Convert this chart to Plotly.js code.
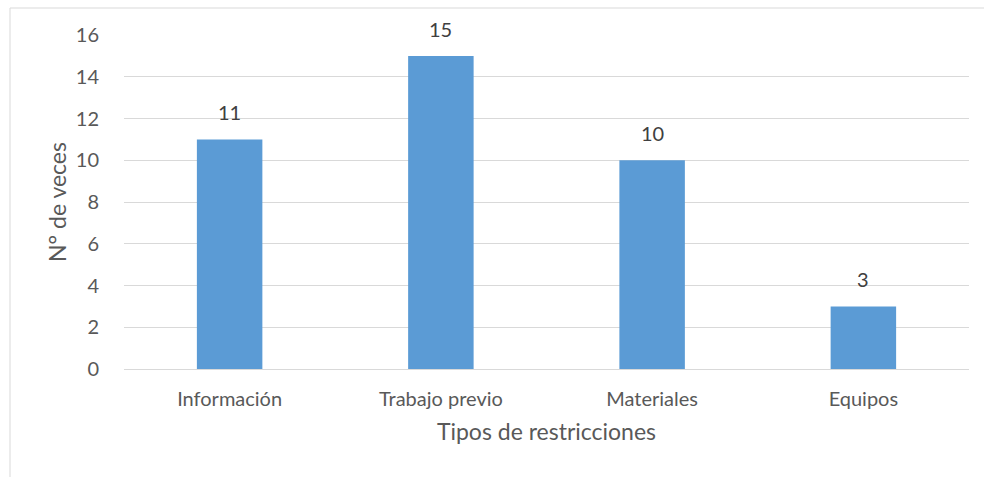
<!DOCTYPE html>
<html>
<head>
<meta charset="utf-8">
<script src="https://cdn.plot.ly/plotly-3.0.1.min.js"></script>
<style>
  html, body { margin: 0; padding: 0; background: #fff; }
  #chart { width: 984px; height: 477px; }
</style>
</head>
<body>
<div id="chart"></div>
<script>
// Restriction types and how many times each occurred
const categories = ["Información", "Trabajo previo", "Materiales", "Equipos"];
const counts = [11, 15, 10, 3];
const yTicks = [0, 2, 4, 6, 8, 10, 12, 14, 16];

const fontFamily = "Lato, 'Open Sans', 'DejaVu Sans', sans-serif";

const trace = {
  type: "bar",
  x: categories,
  y: counts,
  marker: { color: "#5b9bd5", line: { width: 0 } },
  hoverinfo: "x+y"
};

// Value labels sit a little above each bar
const valueLabels = categories.map((c, i) => ({
  x: c,
  y: counts[i],
  xref: "x",
  yref: "y",
  text: String(counts[i]),
  showarrow: false,
  yanchor: "bottom",
  yshift: 13,
  font: { family: fontFamily, size: 20, color: "#404040" }
}));

const layout = {
  width: 984,
  height: 477,
  margin: { l: 124, r: 15, t: 35, b: 108 },
  paper_bgcolor: "#ffffff",
  plot_bgcolor: "#ffffff",
  bargap: 0.69,
  showlegend: false,
  font: { family: fontFamily, color: "#595959", size: 20 },
  xaxis: {
    type: "category",
    showgrid: false,
    showline: false,
    ticks: "outside",
    ticklen: 12,
    tickcolor: "rgba(0,0,0,0)",
    tickfont: { family: fontFamily, size: 20, color: "#595959" },
    title: { text: "Tipos de restricciones", font: { family: fontFamily, size: 23, color: "#595959" }, standoff: 14 }
  },
  yaxis: {
    range: [0, 16],
    tickvals: yTicks,
    ticktext: yTicks.map(String),
    showgrid: true,
    gridcolor: "#d9d9d9",
    gridwidth: 1,
    zeroline: true,
    zerolinecolor: "#d9d9d9",
    zerolinewidth: 1,
    showline: false,
    ticks: "outside",
    ticklen: 20,
    tickcolor: "rgba(0,0,0,0)",
    tickfont: { family: fontFamily, size: 20, color: "#595959" },
    title: { text: "N° de veces", font: { family: fontFamily, size: 23, color: "#595959" }, standoff: 2 }
  },
  annotations: valueLabels,
  shapes: [
    {
      type: "rect",
      xref: "paper", yref: "paper",
      x0: -114 / 845, x1: 1.05,
      y0: -0.5, y1: 1 + 27 / 334,
      line: { color: "#d9d9d9", width: 1 },
      fillcolor: "rgba(0,0,0,0)",
      layer: "below"
    }
  ]
};

Plotly.newPlot("chart", [trace], layout, { staticPlot: true, displayModeBar: false });
</script>
</body>
</html>
